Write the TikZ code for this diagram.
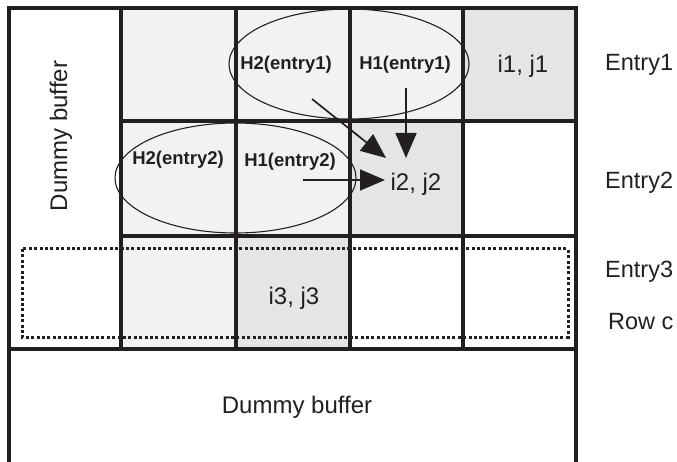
\documentclass[tikz,border=0pt]{standalone}
\usepackage{fontspec}
\setmainfont{Liberation Sans}
\usetikzlibrary{arrows.meta}
\definecolor{ink}{HTML}{231F20}
\definecolor{lightcell}{HTML}{F2F2F2}
\definecolor{graycell}{HTML}{E4E5E7}
\tikzset{
  gridline/.style={draw=ink, line width=3.4pt},
  hashring/.style={draw=ink, line width=1.1pt},
  lbl/.style={text=ink, font=\fontsize{24}{27}\selectfont, inner sep=0pt},
  entrylbl/.style={text=ink, font=\fontsize{23.5}{27}\selectfont, inner sep=0pt, anchor=west},
  hlbl/.style={text=ink, font=\bfseries\fontsize{18.5}{22}\selectfont, inner sep=0pt},
  bigarrow/.style={draw=ink, line width=1.7pt, -{Triangle[length=25pt,width=21pt]}},
  rowbox/.style={draw=ink, line width=3pt, dash pattern=on 3pt off 2.4pt}
}
\begin{document}
\begin{tikzpicture}[x=1pt,y=-1pt]
\useasboundingbox (0,0) rectangle (677,462);
% fills
\fill[lightcell] (121,8) rectangle (463,121);
\fill[graycell] (463,8) rectangle (576,121);
\fill[lightcell] (121,121) rectangle (350,236);
\fill[graycell] (350,121) rectangle (463,236);
\fill[lightcell] (121,236) rectangle (236,349);
\fill[graycell] (236,236) rectangle (350,349);
% ellipses
\draw[hashring] (349,64) ellipse [x radius=120, y radius=55];
\draw[hashring] (235.5,178) ellipse [x radius=120.5, y radius=55];
% grid
\draw[gridline] (9,466) -- (9,8) -- (576,8) -- (576,466);
\draw[gridline] (9,349) -- (576,349);
\draw[gridline] (121,121) -- (576,121);
\draw[gridline] (121,236) -- (576,236);
\draw[gridline] (121,8) -- (121,349);
\draw[gridline] (236,8) -- (236,349);
\draw[gridline] (350,8) -- (350,349);
\draw[gridline] (463,8) -- (463,349);
% dotted row box
\draw[rowbox] (22,249) rectangle (568,337);
% labels
\node[lbl, rotate=90] (dbv) at (61,136) {Dummy buffer};
\node[lbl] (dbh) at (297,407) {Dummy buffer};
\node[lbl] (c1) at (523,66) {i1, j1};
\node[lbl] (c2) at (416,184) {i2, j2};
\node[lbl] (c3) at (294,298) {i3, j3};
\node[hlbl] (h2e1) at (286,65) {H2(entry1)};
\node[hlbl] (h1e1) at (405,65) {H1(entry1)};
\node[hlbl] (h2e2) at (178,160) {H2(entry2)};
\node[hlbl] (h1e2) at (290,162) {H1(entry2)};
\node[entrylbl] (e1) at (605,65) {Entry1};
\node[entrylbl] (e2) at (605,183) {Entry2};
\node[entrylbl] (e3) at (605,272) {Entry3};
\node[entrylbl] (rc) at (608,322) {Row c};
% arrows
\coordinate (a1s) at (312,99);
\coordinate (a1e) at (386,158);
\coordinate (a2s) at (406,88);
\coordinate (a2e) at (406,158);
\coordinate (a3s) at (303,180);
\coordinate (a3e) at (385,180);
\draw[bigarrow] (a1s) -- (a1e);
\draw[bigarrow] (a2s) -- (a2e);
\draw[bigarrow] (a3s) -- (a3e);
\end{tikzpicture}
\end{document}
